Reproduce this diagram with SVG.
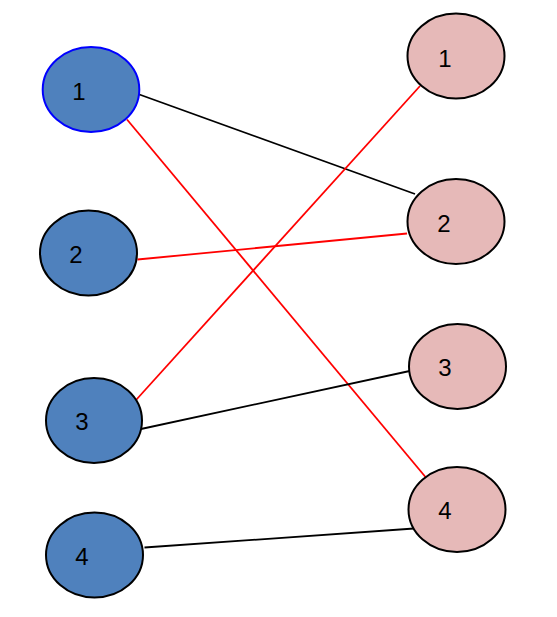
<svg xmlns="http://www.w3.org/2000/svg" width="557" height="617" viewBox="0 0 557 617">
<style>
.l{fill:#4F81BD;stroke:#000;stroke-width:2}
.r{fill:#E6B9B8;stroke:#000;stroke-width:2}
.t{font-family:"Liberation Sans",Arial,sans-serif;font-size:24px;fill:#000;text-anchor:middle}
.k{stroke:#000;stroke-width:1.8;fill:none}
.d{stroke:#FF0000;stroke-width:1.8;fill:none}
</style>
<rect width="557" height="617" fill="#fff"/>
<g id="connectors">
<line class="k" x1="138" y1="94" x2="415" y2="194"/>
<line class="d" x1="127" y1="119.5" x2="425.5" y2="477"/>
<line class="d" x1="420" y1="86" x2="136.5" y2="399.5"/>
<line class="d" x1="137.5" y1="259.5" x2="407" y2="233.5"/>
<line class="k" x1="141" y1="429" x2="412" y2="370.5"/>
<line class="k" x1="144.5" y1="547.5" x2="414" y2="528.5"/>
</g>
<g id="L1"><ellipse class="l" cx="91" cy="89.5" rx="48.3" ry="42.5" style="stroke:#0000FF"/><text class="t" x="79" y="99.5">1</text></g>
<g id="L2"><ellipse class="l" cx="88.5" cy="253" rx="48.5" ry="42.5"/><text class="t" x="76" y="262.5">2</text></g>
<g id="L3"><ellipse class="l" cx="94" cy="420.5" rx="48" ry="42.5"/><text class="t" x="82" y="430">3</text></g>
<g id="L4"><ellipse class="l" cx="94.5" cy="555" rx="48.5" ry="42.5"/><text class="t" x="82" y="565">4</text></g>
<g id="R1"><ellipse class="r" cx="456" cy="56" rx="48.5" ry="42.5"/><text class="t" x="445" y="66.5">1</text></g>
<g id="R2"><ellipse class="r" cx="456" cy="221.5" rx="48.5" ry="42.5"/><text class="t" x="444" y="231.5">2</text></g>
<g id="R3"><ellipse class="r" cx="457.5" cy="366.5" rx="48.5" ry="42.5"/><text class="t" x="445" y="375.5">3</text></g>
<g id="R4"><ellipse class="r" cx="457" cy="509.5" rx="48.5" ry="42.5"/><text class="t" x="445" y="518.5">4</text></g>
</svg>
